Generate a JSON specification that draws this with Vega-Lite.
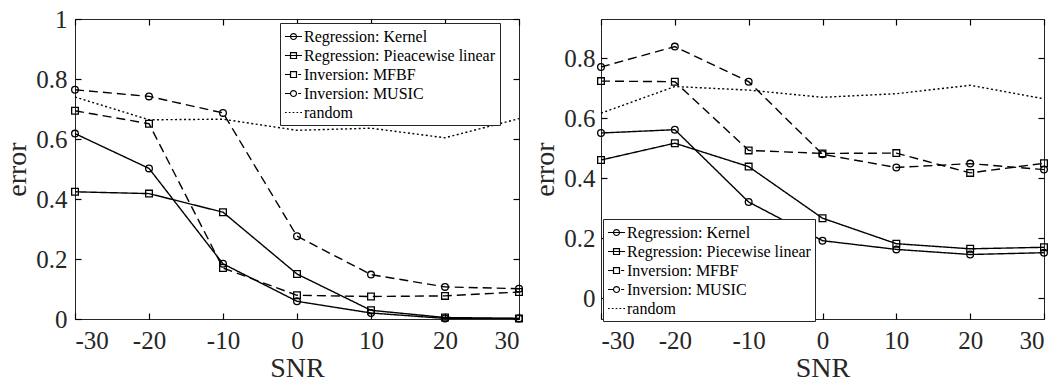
{
  "$schema": "https://vega.github.io/schema/vega-lite/v6.json",
  "background": "white",
  "padding": {"left": 3, "top": 6, "right": 0, "bottom": 0},
  "spacing": 82,
  "bounds": "flush",
  "config": {
    "font": "Liberation Serif",
    "view": {"stroke": "#262626", "strokeWidth": 1},
    "axis": {
      "grid": false,
      "domain": false,
      "ticks": true,
      "tickColor": "black",
      "labelColor": "#262626",
      "titleColor": "#262626",
      "labelFont": "Liberation Serif",
      "titleFont": "Liberation Serif",
      "labelFontSize": 25,
      "titleFontSize": 28,
      "titleFontWeight": "normal",
      "tickSize": 6,
      "offset": -6,
      "tickWidth": 1.2,
      "tickOpacity": 1,
      "zindex": 1
    },
    "legend": {
      "strokeColor": "#262626",
      "fillColor": "white",
      "padding": 4,
      "labelFont": "Liberation Serif",
      "labelFontSize": 16,
      "labelColor": "black",
      "symbolSize": 289,
      "symbolStrokeColor": "black",
      "symbolStrokeWidth": 1.2,
      "symbolFillColor": "transparent",
      "symbolOpacity": 1,
      "rowPadding": 1,
      "labelOffset": 1,
      "labelLimit": 400,
      "title": null,
      "zindex": 2
    }
  },
  "datasets": {
    "left": [
      {"snr": -30, "error": 0.618, "series": "Regression: Kernel"},
      {"snr": -20, "error": 0.502, "series": "Regression: Kernel"},
      {"snr": -10, "error": 0.184, "series": "Regression: Kernel"},
      {"snr": 0, "error": 0.059, "series": "Regression: Kernel"},
      {"snr": 10, "error": 0.020, "series": "Regression: Kernel"},
      {"snr": 20, "error": 0.002, "series": "Regression: Kernel"},
      {"snr": 30, "error": 0.002, "series": "Regression: Kernel"},
      {"snr": -30, "error": 0.424, "series": "Regression: Pieacewise linear"},
      {"snr": -20, "error": 0.418, "series": "Regression: Pieacewise linear"},
      {"snr": -10, "error": 0.356, "series": "Regression: Pieacewise linear"},
      {"snr": 0, "error": 0.150, "series": "Regression: Pieacewise linear"},
      {"snr": 10, "error": 0.029, "series": "Regression: Pieacewise linear"},
      {"snr": 20, "error": 0.005, "series": "Regression: Pieacewise linear"},
      {"snr": 30, "error": 0.002, "series": "Regression: Pieacewise linear"},
      {"snr": -30, "error": 0.694, "series": "Inversion: MFBF"},
      {"snr": -20, "error": 0.651, "series": "Inversion: MFBF"},
      {"snr": -10, "error": 0.170, "series": "Inversion: MFBF"},
      {"snr": 0, "error": 0.079, "series": "Inversion: MFBF"},
      {"snr": 10, "error": 0.075, "series": "Inversion: MFBF"},
      {"snr": 20, "error": 0.077, "series": "Inversion: MFBF"},
      {"snr": 30, "error": 0.090, "series": "Inversion: MFBF"},
      {"snr": -30, "error": 0.764, "series": "Inversion: MUSIC"},
      {"snr": -20, "error": 0.742, "series": "Inversion: MUSIC"},
      {"snr": -10, "error": 0.687, "series": "Inversion: MUSIC"},
      {"snr": 0, "error": 0.276, "series": "Inversion: MUSIC"},
      {"snr": 10, "error": 0.148, "series": "Inversion: MUSIC"},
      {"snr": 20, "error": 0.107, "series": "Inversion: MUSIC"},
      {"snr": 30, "error": 0.101, "series": "Inversion: MUSIC"},
      {"snr": -30, "error": 0.740, "series": "random"},
      {"snr": -20, "error": 0.664, "series": "random"},
      {"snr": -10, "error": 0.666, "series": "random"},
      {"snr": 0, "error": 0.629, "series": "random"},
      {"snr": 10, "error": 0.636, "series": "random"},
      {"snr": 20, "error": 0.604, "series": "random"},
      {"snr": 30, "error": 0.668, "series": "random"}
    ],
    "right": [
      {"snr": -30, "error": 0.550, "series": "Regression: Kernel"},
      {"snr": -20, "error": 0.561, "series": "Regression: Kernel"},
      {"snr": -10, "error": 0.320, "series": "Regression: Kernel"},
      {"snr": 0, "error": 0.191, "series": "Regression: Kernel"},
      {"snr": 10, "error": 0.162, "series": "Regression: Kernel"},
      {"snr": 20, "error": 0.145, "series": "Regression: Kernel"},
      {"snr": 30, "error": 0.151, "series": "Regression: Kernel"},
      {"snr": -30, "error": 0.460, "series": "Regression: Piecewise linear"},
      {"snr": -20, "error": 0.516, "series": "Regression: Piecewise linear"},
      {"snr": -10, "error": 0.438, "series": "Regression: Piecewise linear"},
      {"snr": 0, "error": 0.266, "series": "Regression: Piecewise linear"},
      {"snr": 10, "error": 0.181, "series": "Regression: Piecewise linear"},
      {"snr": 20, "error": 0.164, "series": "Regression: Piecewise linear"},
      {"snr": 30, "error": 0.169, "series": "Regression: Piecewise linear"},
      {"snr": -30, "error": 0.723, "series": "Inversion: MFBF"},
      {"snr": -20, "error": 0.721, "series": "Inversion: MFBF"},
      {"snr": -10, "error": 0.492, "series": "Inversion: MFBF"},
      {"snr": 0, "error": 0.482, "series": "Inversion: MFBF"},
      {"snr": 10, "error": 0.483, "series": "Inversion: MFBF"},
      {"snr": 20, "error": 0.417, "series": "Inversion: MFBF"},
      {"snr": 30, "error": 0.449, "series": "Inversion: MFBF"},
      {"snr": -30, "error": 0.770, "series": "Inversion: MUSIC"},
      {"snr": -20, "error": 0.838, "series": "Inversion: MUSIC"},
      {"snr": -10, "error": 0.721, "series": "Inversion: MUSIC"},
      {"snr": 0, "error": 0.479, "series": "Inversion: MUSIC"},
      {"snr": 10, "error": 0.435, "series": "Inversion: MUSIC"},
      {"snr": 20, "error": 0.448, "series": "Inversion: MUSIC"},
      {"snr": 30, "error": 0.428, "series": "Inversion: MUSIC"},
      {"snr": -30, "error": 0.616, "series": "random"},
      {"snr": -20, "error": 0.705, "series": "random"},
      {"snr": -10, "error": 0.693, "series": "random"},
      {"snr": 0, "error": 0.669, "series": "random"},
      {"snr": 10, "error": 0.681, "series": "random"},
      {"snr": 20, "error": 0.709, "series": "random"},
      {"snr": 30, "error": 0.664, "series": "random"}
    ]
  },
  "hconcat": [
    {
      "width": 444,
      "height": 300,
      "data": {"name": "left"},
      "layer": [
        {
          "mark": {"type": "line", "color": "black", "strokeWidth": 1.4},
          "encoding": {
            "x": {"field": "snr", "type": "quantitative", "scale": {"domain": [-30, 30], "nice": false, "zero": false},
                  "axis": {"orient": "bottom", "values": [-30, -20, -10, 0, 10, 20, 30], "labelExpr": "'' + datum.value", "title": "SNR", "labelPadding": 9, "titlePadding": 1, "ticks": true, "tickSize": 6, "tickColor": "black"}},
            "y": {"field": "error", "type": "quantitative", "scale": {"domain": [0, 1], "nice": false},
                  "axis": {"orient": "left", "values": [0, 0.2, 0.4, 0.6, 0.8, 1], "labelExpr": "'' + datum.value", "title": "error", "labelPadding": 8, "titlePadding": 4, "ticks": true, "tickSize": 6, "tickColor": "black"}},
            "strokeDash": {"field": "series", "type": "nominal",
                  "scale": {"domain": ["Regression: Kernel", "Regression: Pieacewise linear", "Inversion: MFBF", "Inversion: MUSIC", "random"],
                            "range": [[1, 0], [1, 0], [9, 5], [9, 5], [2, 2.5]]}, "legend": null}
          }
        },
        {
          "transform": [{"filter": "datum.series !== 'random'"}],
          "mark": {"type": "point", "filled": false, "color": "black", "size": 45, "strokeWidth": 1.3, "opacity": 1},
          "encoding": {
            "x": {"field": "snr", "type": "quantitative", "axis": null},
            "y": {"field": "error", "type": "quantitative", "axis": null},
            "shape": {"field": "series", "type": "nominal",
                  "scale": {"domain": ["Regression: Kernel", "Regression: Pieacewise linear", "Inversion: MFBF", "Inversion: MUSIC"],
                            "range": ["circle", "square", "square", "circle"]}, "legend": null}
          }
        },
        {
          "mark": {"type": "point", "opacity": 0},
          "encoding": {
            "x": {"field": "snr", "type": "quantitative", "axis": null},
            "y": {"field": "error", "type": "quantitative", "axis": null},
            "shape": {"field": "series", "type": "nominal",
                  "scale": {"domain": ["Regression: Kernel", "Regression: Pieacewise linear", "Inversion: MFBF", "Inversion: MUSIC", "random"],
                            "range": [
                              "M-1,0H1M-0.35,0A0.35,0.35 0 1,0 0.35,0A0.35,0.35 0 1,0 -0.35,0",
                              "M-1,0H1M-0.35,-0.35H0.35V0.35H-0.35Z",
                              "M-1,0H-0.35M0.55,0H0.9M-0.35,-0.35H0.35V0.35H-0.35Z",
                              "M-1,0H-0.35M0.55,0H0.9M-0.35,0A0.35,0.35 0 1,0 0.35,0A0.35,0.35 0 1,0 -0.35,0",
                              "M-1,0H-0.8M-0.55,0H-0.35M-0.1,0H0.1M0.35,0H0.55M0.8,0H1"
                            ]},
                  "legend": {"orient": "none", "legendX": 205, "legendY": 4}}
          }
        },
        {
          "mark": {"type": "point", "opacity": 0},
          "encoding": {
            "x": {"field": "snr", "type": "quantitative", "axis": {"orient": "top", "values": [-30, -20, -10, 0, 10, 20, 30], "labels": false, "title": null, "ticks": true, "tickSize": 6, "tickColor": "black"}},
            "y": {"field": "error", "type": "quantitative", "axis": {"orient": "right", "values": [0, 0.2, 0.4, 0.6, 0.8, 1], "labels": false, "title": null, "ticks": true, "tickSize": 6, "tickColor": "black"}}
          }
        }
      ],
      "resolve": {"scale": {"shape": "independent"}, "axis": {"x": "independent", "y": "independent"}}
    },
    {
      "width": 443,
      "height": 300,
      "data": {"name": "right"},
      "layer": [
        {
          "mark": {"type": "line", "color": "black", "strokeWidth": 1.4},
          "encoding": {
            "x": {"field": "snr", "type": "quantitative", "scale": {"domain": [-30, 30], "nice": false, "zero": false},
                  "axis": {"orient": "bottom", "values": [-30, -20, -10, 0, 10, 20, 30], "labelExpr": "'' + datum.value", "title": "SNR", "labelPadding": 9, "titlePadding": 1, "ticks": true, "tickSize": 6, "tickColor": "black"}},
            "y": {"field": "error", "type": "quantitative", "scale": {"domain": [-0.07, 0.93], "nice": false, "zero": false},
                  "axis": {"orient": "left", "values": [0, 0.2, 0.4, 0.6, 0.8], "labelExpr": "'' + datum.value", "title": "error", "labelPadding": 6, "titlePadding": 4, "ticks": true, "tickSize": 6, "tickColor": "black"}},
            "strokeDash": {"field": "series", "type": "nominal",
                  "scale": {"domain": ["Regression: Kernel", "Regression: Piecewise linear", "Inversion: MFBF", "Inversion: MUSIC", "random"],
                            "range": [[1, 0], [1, 0], [9, 5], [9, 5], [2, 2.5]]}, "legend": null}
          }
        },
        {
          "transform": [{"filter": "datum.series !== 'random'"}],
          "mark": {"type": "point", "filled": false, "color": "black", "size": 45, "strokeWidth": 1.3, "opacity": 1},
          "encoding": {
            "x": {"field": "snr", "type": "quantitative", "axis": null},
            "y": {"field": "error", "type": "quantitative", "axis": null},
            "shape": {"field": "series", "type": "nominal",
                  "scale": {"domain": ["Regression: Kernel", "Regression: Piecewise linear", "Inversion: MFBF", "Inversion: MUSIC"],
                            "range": ["circle", "square", "square", "circle"]}, "legend": null}
          }
        },
        {
          "mark": {"type": "point", "opacity": 0},
          "encoding": {
            "x": {"field": "snr", "type": "quantitative", "axis": null},
            "y": {"field": "error", "type": "quantitative", "axis": null},
            "shape": {"field": "series", "type": "nominal",
                  "scale": {"domain": ["Regression: Kernel", "Regression: Piecewise linear", "Inversion: MFBF", "Inversion: MUSIC", "random"],
                            "range": [
                              "M-1,0H1M-0.35,0A0.35,0.35 0 1,0 0.35,0A0.35,0.35 0 1,0 -0.35,0",
                              "M-1,0H1M-0.35,-0.35H0.35V0.35H-0.35Z",
                              "M-1,0H-0.35M0.55,0H0.9M-0.35,-0.35H0.35V0.35H-0.35Z",
                              "M-1,0H-0.35M0.55,0H0.9M-0.35,0A0.35,0.35 0 1,0 0.35,0A0.35,0.35 0 1,0 -0.35,0",
                              "M-1,0H-0.8M-0.55,0H-0.35M-0.1,0H0.1M0.35,0H0.55M0.8,0H1"
                            ]},
                  "legend": {"orient": "none", "legendX": 2, "legendY": 200}}
          }
        },
        {
          "mark": {"type": "point", "opacity": 0},
          "encoding": {
            "x": {"field": "snr", "type": "quantitative", "axis": {"orient": "top", "values": [-30, -20, -10, 0, 10, 20, 30], "labels": false, "title": null, "ticks": true, "tickSize": 6, "tickColor": "black"}},
            "y": {"field": "error", "type": "quantitative", "axis": {"orient": "right", "values": [0, 0.2, 0.4, 0.6, 0.8], "labels": false, "title": null, "ticks": true, "tickSize": 6, "tickColor": "black"}}
          }
        }
      ],
      "resolve": {"scale": {"shape": "independent"}, "axis": {"x": "independent", "y": "independent"}}
    }
  ]
}
